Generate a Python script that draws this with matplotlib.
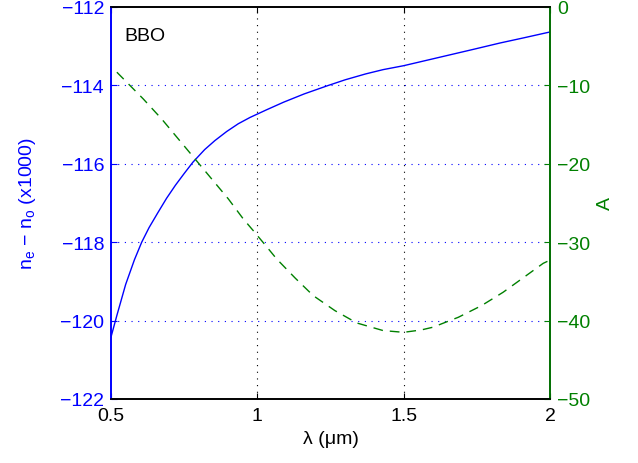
import matplotlib
matplotlib.use("Agg")
import matplotlib.pyplot as plt

plt.rcParams['font.family'] = ['Liberation Sans', 'DejaVu Sans']
plt.rcParams['font.size'] = 14

# birefringence (x1000) vs wavelength (um)
wl_dn = [0.50, 0.52, 0.55, 0.58, 0.605, 0.63, 0.66, 0.69, 0.72, 0.75, 0.78,
         0.82, 0.855, 0.895, 0.935, 0.975, 1.03, 1.09, 1.16, 1.24, 1.30,
         1.37, 1.43, 1.50, 1.58, 1.66, 1.74, 1.83, 1.91, 2.00]
dn = [-120.42, -119.87, -119.08, -118.45, -118.0, -117.63, -117.25, -116.88,
      -116.55, -116.25, -115.96, -115.64, -115.41, -115.18, -114.98, -114.82,
      -114.63, -114.43, -114.22, -114.01, -113.86, -113.71, -113.60, -113.50,
      -113.36, -113.22, -113.08, -112.92, -112.79, -112.64]

# A parameter vs wavelength (um)
wl_a = [0.52, 0.61, 0.673, 0.73, 0.787, 0.844, 0.901, 0.952, 0.986, 1.03,
        1.066, 1.129, 1.191, 1.265, 1.34, 1.43, 1.50, 1.56, 1.60, 1.687,
        1.766, 1.84, 1.914, 1.977, 2.0]
a_vals = [-8.33, -11.73, -14.29, -16.84, -19.39, -21.94, -24.49, -27.04,
          -28.53, -30.5, -32.14, -34.57, -36.82, -38.73, -40.31, -41.28,
          -41.5, -41.2, -40.85, -39.58, -38.1, -36.39, -34.4, -32.7, -32.3]

blue = '#0000ff'
green = '#008000'

fig = plt.figure(figsize=(6.38, 4.64), dpi=100)
ax = fig.add_axes([0.174, 0.138, 0.688, 0.845])
ax2 = ax.twinx()

ax.plot(wl_dn, dn, color=blue, lw=1)
ax2.plot(wl_a, a_vals, color=green, lw=1, ls=(0, (7, 5)))

ax.set_xlim(0.5, 2)
ax.set_ylim(-122, -112)
ax2.set_ylim(-50, 0)
ax.set_xticks([0.5, 1, 1.5, 2])
ax.set_xticklabels(['0.5', '1', '1.5', '2'])
left_ticks = list(range(-122, -111, 2))
right_ticks = list(range(-50, 1, 10))
ax.set_yticks(left_ticks)
ax.set_yticklabels(['\u2212%d' % -v for v in left_ticks])
ax2.set_yticks(right_ticks)
ax2.set_yticklabels(['\u2212%d' % -v if v else '0' for v in right_ticks])

# grid lines: vertical black dotted, horizontal blue dotted
for xv in [1, 1.5]:
    ax.axvline(xv, color='black', ls=(0, (1, 5)), lw=0.8, zorder=0)
for yv in [-114, -116, -118, -120]:
    ax.axhline(yv, color=blue, ls=(0, (1, 5)), lw=0.8, zorder=0)

ax.tick_params(axis='x', direction='in', top=True, length=4, pad=6, colors='black')
ax.tick_params(axis='y', direction='in', length=4, pad=5, colors=blue, labelcolor=blue)
ax2.tick_params(axis='y', direction='in', length=4, pad=5, colors=green, labelcolor=green)

ax.spines['left'].set_color(blue)
ax2.spines['left'].set_color(blue)
ax2.spines['right'].set_color(green)
for s in list(ax.spines.values()) + list(ax2.spines.values()):
    s.set_linewidth(1.2)

ax.set_xlabel('\u03bb (\u03bcm)', labelpad=4)
ax.set_ylabel('n$_\\mathregular{e}$ \u2212 n$_\\mathregular{o}$ (x1000)', color=blue, labelpad=16)
ax2.set_ylabel('A', color=green, rotation=90, labelpad=5)

ax.text(0.546, -112.85, 'BBO', fontsize=14)

fig.savefig('out.png', dpi=100)
